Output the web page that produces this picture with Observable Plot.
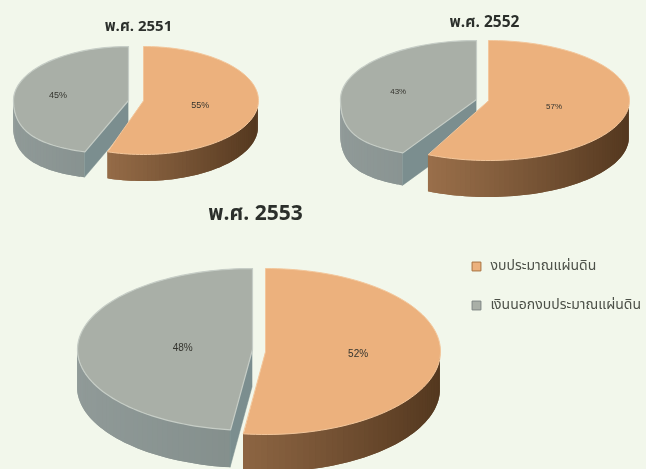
<!DOCTYPE html>
<html>
<head>
<meta charset="utf-8">
<script src="https://cdn.jsdelivr.net/npm/d3@7"></script>
<script src="https://cdn.jsdelivr.net/npm/@observablehq/plot@0.6"></script>
<style>
html,body{margin:0;padding:0;background:#f2f7eb;overflow:hidden}
svg{display:block;filter:blur(.45px)}
</style>
</head>
<body>
<div id="chart"></div>
<script>
// Data
const years = ["พ.ศ. 2551", "พ.ศ. 2552", "พ.ศ. 2553"];
const budgetShare = [55, 57, 52];
const offBudgetShare = [45, 43, 48];
const seriesNames = ["งบประมาณแผ่นดิน", "เงินนอกงบประมาณแผ่นดิน"];

// Layout of each 3D pie: [orange wedge, grey wedge] centres, radii and depth
const pieLayout = [
  {o:{cx:143,cy:100,rx:115,ry:54,d:27,k:0,f:.5}, g:{cx:128,cy:100,rx:115,ry:54,d:26,k:.25,f:.62}, title:[138,26,15]},
  {o:{cx:488,cy:100,rx:141,ry:60,d:37,k:0,f:.476}, g:{cx:476,cy:99,rx:136,ry:59,d:33,k:.33,f:.59}, title:[484,22,15.5]},
  {o:{cx:265,cy:351,rx:175,ry:83,d:38,k:0,f:.53}, g:{cx:252,cy:349,rx:175,ry:81,d:38,k:0,f:.4}, title:[255,213,21]}
];
const colors = {
  orange:{top:"#ecb17d", edge:"#f3c79c", side:["#ab7d55","#54381f"]},
  grey:{top:"#a9afa7", edge:"#c6cdc6", side:["#909a98","#76827f"]}
};

const rad = Math.PI/180;
const project = (p,deg,dz=0)=>{
  const t=deg*rad, s=Math.sin(t), c=Math.cos(t), near=Math.max(0,-c);
  return {x:p.cx+p.rx*s*(1+p.k*near*near), y:p.cy-p.ry*c+dz};
};
const arc = (a,b)=>{
  const n=Math.max(2,Math.ceil(Math.abs(b-a)/2)), out=[];
  for(let i=0;i<=n;i++) out.push(a+(b-a)*i/n);
  return out;
};

const faces=[], sides=[], walls=[], labels=[];
years.forEach((yr,i)=>{
  const L=pieLayout[i], split=budgetShare[i]*3.6;
  // orange wedge: 0 -> split ; grey wedge: split -> 360
  const wedges=[
    {key:"grey",p:L.g,a:split,b:360,share:offBudgetShare[i]},
    {key:"orange",p:L.o,a:0,b:split,share:budgetShare[i]}
  ];
  wedges.forEach(w=>{
    const id=yr+w.key, c=colors[w.key], p=w.p;
    // outer wall, visible on the near half only; each strip overlaps the next
    const lo=Math.max(w.a,90), hi=Math.min(w.b,270), steps=arc(lo,hi);
    const ramp=d3.interpolateRgb(c.side[0],c.side[1]);
    for(let j=0;j<steps.length-1;j++){
      const q0=project(p,steps[j]), q1=project(p,steps[j+1]), q2=project(p,steps[Math.min(j+2,steps.length-1)]);
      const t=Math.min(1,Math.max(0,(q0.x-(p.cx-p.rx))/(2*p.rx)));
      const tone=ramp(w.key==="orange"?Math.pow(t,1.3):t);
      [q0,q1,q2].forEach(q=>sides.push({x:q.x,y:q.y,y2:q.y+p.d,seg:id+j,color:tone,key:w.key}));
    }
    // cut wall of the grey wedge, seen between the two wedges
    if(w.key==="grey"){
      const tip=project(p,w.a);
      [{x:p.cx,y:p.cy},tip].forEach(q=>walls.push({x:q.x,y:q.y,y2:q.y+p.d,seg:id}));
    }
    // top face
    const pts=[{x:p.cx,y:p.cy,id}];
    arc(w.a,w.b).forEach(dg=>{const q=project(p,dg);pts.push({x:q.x,y:q.y,id});});
    faces.push({key:w.key,pts});
    // value label
    const mid=(w.a+w.b)/2*rad;
    labels.push({x:p.cx+p.rx*p.f*Math.sin(mid), y:p.cy-p.ry*p.f*Math.cos(mid), text:w.share+"%", size:i===2?10:(i===1?8:9)});
  });
});

const titleRows=years.map((t,i)=>({t,x:pieLayout[i].title[0],y:pieLayout[i].title[1],s:pieLayout[i].title[2]}));
const legendRows=seriesNames.map((name,i)=>({name,y:[266,305][i],color:[colors.orange.top,colors.grey.top][i],edge:["#a9723f","#7d8583"][i]}));

const font='"Noto Sans Thai","Noto Sans Thai UI","Noto Sans CJK SC","Noto Sans","DejaVu Sans",sans-serif';
const marks=[
  Plot.area(sides,{filter:d=>d.key==="grey",x1:"x",y1:"y",y2:"y2",z:"seg",fill:"color"}),
  Plot.area(walls,{x1:"x",y1:"y",y2:"y2",z:"seg",fill:"#7b8e8f",stroke:"#7b8e8f",strokeWidth:.5})
];
faces.filter(f=>f.key==="grey").forEach(f=>marks.push(
  Plot.line(f.pts,{x:"x",y:"y",fill:colors.grey.top,stroke:colors.grey.edge,strokeWidth:1.2,curve:"linear-closed"})));
marks.push(Plot.area(sides,{filter:d=>d.key==="orange",x1:"x",y1:"y",y2:"y2",z:"seg",fill:"color"}));
faces.filter(f=>f.key==="orange").forEach(f=>marks.push(
  Plot.line(f.pts,{x:"x",y:"y",fill:colors.orange.top,stroke:colors.orange.edge,strokeWidth:1,curve:"linear-closed"})));
marks.push(
  Plot.text(labels,{x:"x",y:"y",text:"text",fontSize:"size",fill:"#34342e",fontFamily:"Liberation Sans, sans-serif"}),
  Plot.text(titleRows,{x:"x",y:"y",text:"t",fontSize:"s",fontWeight:"bold",fill:"#2b2f2b",fontFamily:font}),
  Plot.dot(legendRows,{x:476,y:"y",symbol:"square",r:5,fill:"color",stroke:"edge",strokeWidth:1}),
  Plot.text(legendRows,{x:490,y:d=>d.y-1,text:"name",textAnchor:"start",fontSize:14,fill:"#4c5048",fontFamily:font})
);

const chart=Plot.plot({
  width:646,height:469,
  marginTop:0,marginRight:0,marginBottom:0,marginLeft:0,
  x:{domain:[0,646],range:[0,646],axis:null},
  y:{domain:[0,469],range:[0,469],axis:null},
  color:{type:"identity"},
  style:{background:"#f2f7eb",overflow:"hidden"},
  marks
});
document.getElementById("chart").appendChild(chart);
</script>
</body>
</html>
